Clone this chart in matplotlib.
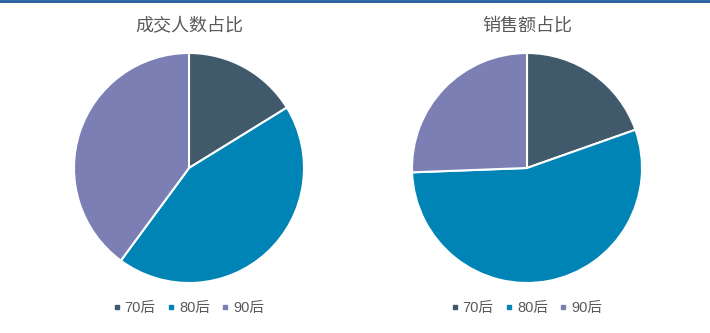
import matplotlib.pyplot as plt
from matplotlib.lines import Line2D

plt.rcParams['font.family'] = ['Noto Sans CJK SC', 'DejaVu Sans']

# data (percent shares)
groups = ['70后', '80后', '90后']
buyers_share = [16.2, 43.9, 39.9]
sales_share = [19.6, 54.8, 25.6]
titles = ['成交人数占比', '销售额占比']
colors = ['#405a6b', '#0083b5', '#7b7fb3']

W, H = 710, 333
fig = plt.figure(figsize=(W / 100, H / 100), dpi=100)

# thin blue rule along the top edge
fig.add_artist(Line2D([0, 1], [1 - 1 / H, 1 - 1 / H], color='#1f5c99', lw=2))

centers = [(189, 168), (527, 168)]
r = 115
for (cx, cy), vals, title in zip(centers, [buyers_share, sales_share], titles):
    ax = fig.add_axes([(cx - r) / W, (H - cy - r) / H, 2 * r / W, 2 * r / H])
    ax.pie(vals, colors=colors, startangle=90, counterclock=False, radius=1,
           wedgeprops=dict(edgecolor='white', linewidth=1.5))
    ax.set_xlim(-1, 1)
    ax.set_ylim(-1, 1)
    ax.set_aspect('equal')
    ax.axis('off')

    fig.text(cx / W, (H - 26) / H, title, ha='center', va='center',
             fontsize=13, color='#595959')

    handles = [Line2D([], [], marker='s', linestyle='none', markersize=3.2,
                      markerfacecolor=c, markeredgecolor=c) for c in colors]
    fig.legend(handles, groups, loc='center', bbox_to_anchor=(cx / W, (H - 308) / H),
               ncol=3, frameon=False, handletextpad=0.35, columnspacing=0.85,
               handlelength=0.4, labelcolor='#595959',
               prop=dict(family=['Liberation Sans', 'Noto Sans CJK SC'],
                         size=10.5))

fig.savefig('out.png', dpi=100)
